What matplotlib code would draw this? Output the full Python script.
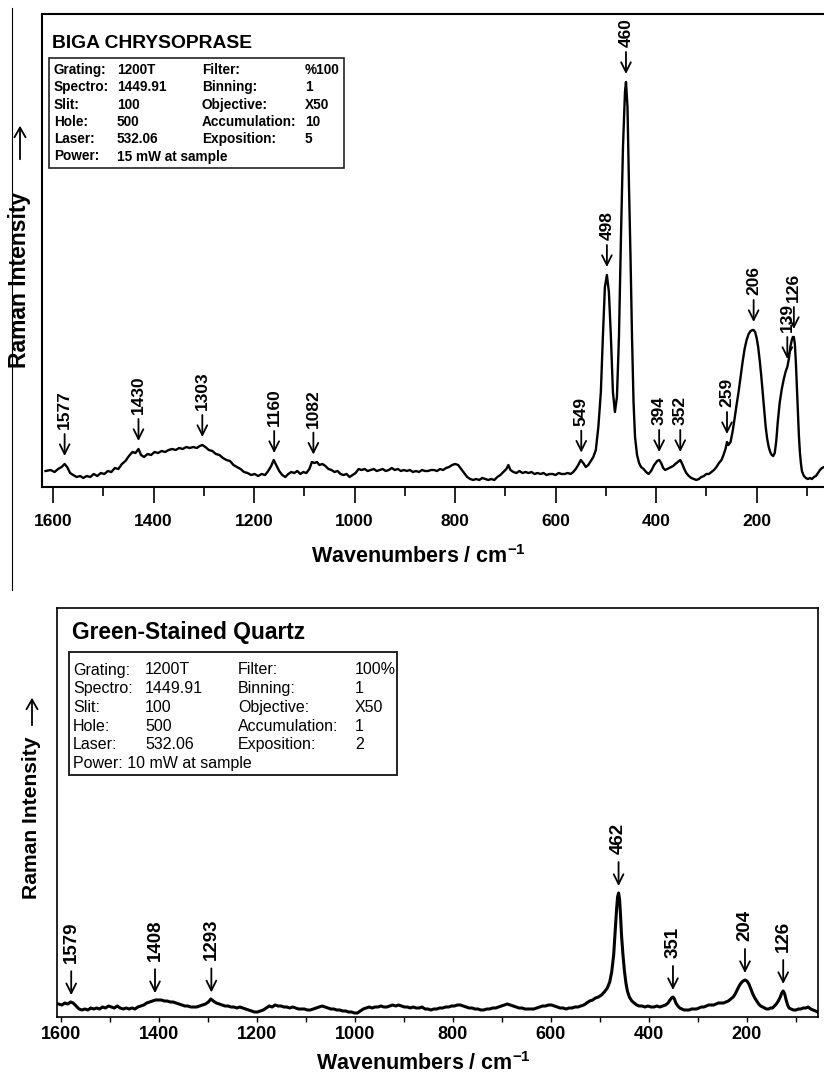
import matplotlib
matplotlib.use('Agg')
import numpy as np
import matplotlib.pyplot as plt
from matplotlib.lines import Line2D
from matplotlib.patches import Rectangle, FancyArrowPatch

plt.rcParams['font.family'] = ['Liberation Sans', 'DejaVu Sans']
plt.rcParams['mathtext.fontset'] = 'custom'
plt.rcParams['mathtext.bf'] = 'Liberation Sans:bold'
plt.rcParams['mathtext.rm'] = 'Liberation Sans'

W, H = 824, 1075


def fx(x):
    return x / W


def fy(y):
    return 1 - y / H


# ---- Biga chrysoprase spectrum (wavenumber, intensity a.u.) ----
chry_wn = [1615, 1605, 1597, 1590, 1583, 1577, 1572, 1566, 1560, 1553, 1546, 1540, 1533, 1526, 1519, 1512,
           1505, 1498, 1491, 1484, 1477, 1470, 1463, 1456, 1449, 1442, 1436, 1430, 1425, 1419, 1412, 1405,
           1398, 1391, 1384, 1377, 1370, 1363, 1356, 1349, 1342, 1335, 1328, 1321, 1314, 1308, 1303, 1297,
           1290, 1283, 1276, 1269, 1262, 1255, 1248, 1241, 1234, 1227, 1220, 1213, 1206, 1199, 1192, 1185,
           1178, 1172, 1166, 1161, 1156, 1150, 1144, 1138, 1132, 1126, 1120, 1114, 1108, 1102, 1096, 1090,
           1085, 1080, 1075, 1070, 1064, 1058, 1052, 1046, 1040, 1034, 1028, 1022, 1016, 1010, 1004, 998,
           992, 986, 980, 974, 968, 962, 956, 950, 944, 938, 932, 926, 920, 914, 908, 902,
           896, 890, 884, 878, 872, 866, 860, 854, 848, 842, 836, 830, 824, 818, 812, 806,
           800, 794, 788, 782, 776, 770, 764, 758, 752, 746, 740, 734, 728, 722, 716, 710,
           704, 698, 694, 690, 684, 678, 672, 666, 660, 654, 648, 642, 636, 630, 624, 618,
           612, 606, 600, 594, 588, 582, 576, 570, 565, 560, 555, 550, 545, 540, 535, 530,
           525, 520, 515, 510, 506, 502, 498, 494, 490, 486, 482, 478, 474, 470, 466, 462,
           460, 457, 454, 451, 448, 445, 442, 438, 434, 430, 425, 420, 415, 410, 404, 398,
           394, 390, 386, 382, 378, 374, 370, 366, 362, 357, 352, 348, 344, 340, 335, 330,
           325, 320, 315, 310, 305, 300, 295, 290, 285, 280, 275, 270, 266, 262, 259, 256,
           252, 248, 244, 240, 236, 232, 228, 224, 220, 216, 212, 208, 206, 203, 200, 197,
           194, 191, 188, 185, 182, 179, 176, 173, 170, 167, 164, 161, 158, 154, 150, 146,
           142, 139, 136, 133, 130, 128, 126, 124, 122, 120, 118, 116, 114, 112, 110, 106,
           102, 98, 94, 90, 86, 82, 78, 74, 70, 66]
chry_int = [16, 17, 15, 18, 20, 23, 20, 14, 12, 10, 11, 9, 11, 10, 13, 11,
            14, 13, 16, 15, 19, 18, 23, 26, 31, 35, 34, 38, 32, 30, 33, 32,
            35, 34, 36, 35, 37, 38, 37, 39, 38, 40, 39, 40, 39, 41, 42, 40,
            37, 36, 33, 32, 29, 27, 26, 22, 20, 18, 15, 14, 12, 13, 11, 13,
            12, 16, 21, 27, 22, 16, 12, 10, 13, 15, 14, 16, 13, 15, 14, 18,
            25, 24, 25, 22, 23, 21, 18, 17, 15, 16, 13, 12, 13, 10, 12, 14,
            18, 17, 18, 16, 17, 18, 16, 17, 18, 16, 17, 19, 17, 18, 16, 17,
            16, 17, 15, 16, 15, 17, 16, 16, 17, 17, 16, 18, 17, 19, 20, 22,
            23, 22, 18, 14, 10, 8, 7, 8, 7, 9, 8, 7, 8, 7, 10, 12,
            15, 18, 22, 17, 15, 14, 16, 14, 15, 14, 15, 13, 14, 13, 14, 12,
            13, 13, 12, 14, 13, 13, 14, 13, 15, 18, 22, 27, 24, 20, 22, 26,
            30, 37, 60, 95, 150, 200, 212, 195, 150, 95, 75, 90, 150, 250, 340, 395,
            405, 380, 300, 230, 150, 85, 50, 32, 24, 20, 18, 15, 13, 16, 22, 26,
            27, 24, 19, 17, 18, 19, 20, 21, 23, 25, 27, 23, 18, 14, 11, 9,
            8, 7, 8, 10, 11, 13, 13, 15, 17, 20, 24, 27, 32, 38, 45, 42,
            45, 55, 68, 82, 95, 110, 125, 138, 147, 153, 156, 157, 157, 155, 149, 140,
            127, 112, 95, 78, 60, 48, 40, 35, 32, 31, 34, 46, 65, 85, 98, 108,
            116, 120, 128, 140, 147, 150, 150, 143, 125, 100, 75, 52, 35, 24, 16, 11,
            9, 8, 9, 8, 10, 11, 14, 17, 19, 20]
chry_peaks = [1577, 1430, 1303, 1160, 1082, 549, 498, 460, 394, 352, 259, 206, 139, 126]

# ---- Green-stained quartz spectrum ----
qtz_wn = [1605, 1598, 1592, 1586, 1580, 1575, 1569, 1563, 1557, 1551, 1545, 1539, 1533, 1527, 1521, 1515,
          1509, 1503, 1497, 1491, 1485, 1479, 1473, 1467, 1461, 1455, 1449, 1443, 1437, 1431, 1425, 1419,
          1413, 1407, 1401, 1395, 1389, 1383, 1377, 1371, 1365, 1359, 1353, 1347, 1341, 1335, 1329, 1323,
          1317, 1311, 1305, 1299, 1294, 1289, 1283, 1277, 1271, 1265, 1259, 1253, 1247, 1241, 1235, 1229,
          1223, 1217, 1211, 1205, 1199, 1193, 1187, 1181, 1175, 1169, 1163, 1157, 1151, 1145, 1139, 1133,
          1127, 1121, 1115, 1109, 1103, 1097, 1091, 1085, 1079, 1073, 1067, 1061, 1055, 1049, 1043, 1037,
          1031, 1025, 1019, 1013, 1007, 1001, 995, 989, 983, 977, 971, 965, 959, 953, 947, 941,
          935, 929, 923, 917, 911, 905, 899, 893, 887, 881, 875, 869, 863, 857, 851, 845,
          839, 833, 827, 821, 815, 809, 803, 797, 791, 785, 779, 773, 767, 761, 755, 749,
          743, 737, 731, 725, 719, 713, 707, 701, 695, 689, 683, 677, 671, 665, 659, 653,
          647, 641, 635, 629, 623, 617, 611, 605, 599, 593, 587, 581, 575, 569, 563, 557,
          551, 545, 539, 533, 527, 521, 515, 509, 503, 497, 491, 485, 480, 476, 472, 469,
          466, 464, 462, 460, 458, 456, 453, 450, 447, 444, 440, 435, 430, 425, 420, 414,
          408, 402, 396, 390, 384, 378, 372, 366, 361, 357, 354, 351, 348, 345, 341, 337,
          333, 328, 323, 318, 313, 308, 303, 298, 293, 288, 283, 278, 273, 268, 263, 258,
          253, 248, 243, 238, 233, 228, 224, 220, 216, 212, 208, 204, 200, 196, 192, 188,
          184, 180, 176, 172, 168, 164, 160, 156, 152, 148, 144, 140, 136, 132, 129, 126,
          123, 120, 117, 114, 110, 105, 100, 95, 90, 85, 80, 75, 70, 65, 60, 56]
qtz_int = [13, 12, 14, 13, 15, 14, 11, 8, 7, 8, 7, 9, 8, 9, 8, 10,
           9, 11, 10, 9, 11, 9, 8, 9, 8, 9, 8, 10, 11, 12, 14, 15,
           16, 17, 17, 17, 16, 16, 15, 15, 14, 13, 12, 11, 11, 10, 10, 10,
           11, 12, 13, 15, 18, 16, 14, 13, 12, 11, 11, 10, 10, 9, 10, 9,
           8, 7, 6, 5, 5, 6, 7, 9, 11, 10, 12, 11, 11, 10, 10, 9,
           10, 9, 8, 8, 8, 7, 7, 8, 9, 10, 11, 10, 9, 8, 8, 7,
           7, 6, 6, 5, 5, 4, 4, 6, 8, 9, 10, 9, 10, 10, 11, 10,
           10, 11, 12, 11, 12, 11, 10, 10, 9, 10, 9, 9, 10, 8, 8, 7,
           8, 8, 9, 9, 10, 10, 11, 11, 12, 12, 11, 10, 9, 9, 8, 8,
           7, 7, 8, 8, 9, 9, 10, 11, 12, 13, 12, 11, 10, 9, 9, 8,
           8, 8, 8, 9, 10, 11, 11, 12, 12, 11, 10, 9, 9, 8, 9, 9,
           10, 10, 11, 12, 14, 16, 17, 19, 20, 22, 25, 29, 35, 45, 62, 85,
           108, 120, 124, 118, 102, 82, 62, 46, 34, 26, 20, 16, 14, 12, 11, 11,
           10, 11, 10, 10, 11, 10, 11, 12, 14, 17, 19, 20, 18, 14, 11, 9,
           8, 7, 7, 7, 8, 8, 8, 9, 10, 10, 11, 12, 12, 12, 13, 14,
           14, 14, 15, 16, 18, 20, 23, 27, 31, 34, 36, 37, 36, 33, 28, 23,
           19, 16, 13, 11, 10, 9, 8, 8, 9, 9, 11, 13, 16, 20, 24, 26,
           23, 17, 12, 9, 8, 7, 7, 8, 8, 9, 9, 10, 8, 7, 6, 5]
qtz_peaks = [1579, 1408, 1293, 462, 351, 204, 126]

major_ticks = [1600, 1400, 1200, 1000, 800, 600, 400, 200]
minor_ticks = [1500, 1300, 1100, 900, 700, 500, 300, 100]

fig = plt.figure(figsize=(W / 100, H / 100), dpi=100)


def add_axes_px(left, top, right, bottom):
    return fig.add_axes([fx(left), fy(bottom), (right - left) / W, (bottom - top) / H])


def mark_peaks(ax, wn, inten, peaks, gap, alen, tgap, fs):
    for p in peaks:
        yv = np.interp(p, wn[::-1], inten[::-1])
        ax.annotate('', xy=(p, yv), xytext=(0, gap + alen), textcoords='offset pixels',
                    arrowprops=dict(arrowstyle='->,head_length=0.7,head_width=0.35', lw=1.3,
                                    color='black', shrinkA=0, shrinkB=gap * 0.72))
        ax.annotate(str(p), xy=(p, yv), xytext=(0, gap + alen + tgap), textcoords='offset pixels',
                    rotation=90, ha='center', va='bottom', fontsize=fs, fontweight='bold')


def ylabel_arrow(x, y_text, y0, y1, fs):
    fig.text(fx(x), fy(y_text), 'Raman Intensity', rotation=90, ha='center', va='center',
             fontsize=fs, fontweight='bold')
    fig.patches.append(FancyArrowPatch((fx(x), fy(y0)), (fx(x), fy(y1)), transform=fig.transFigure,
                                       arrowstyle='->,head_length=7,head_width=4', lw=1.3,
                                       color='black', mutation_scale=1))


def info_box(x0, y0, x1, y1, title, tx, ty, tsize, rows, cols, row0, dy, power, psize, weight, lw):
    fig.text(fx(tx), fy(ty), title, fontsize=tsize, fontweight='bold', va='center')
    fig.patches.append(Rectangle((fx(x0), fy(y1)), (x1 - x0) / W, (y1 - y0) / H,
                                 transform=fig.transFigure, fill=False, lw=lw, ec='#222222'))
    for i, row in enumerate(rows):
        for c, s in zip(cols, row):
            fig.text(fx(c), fy(row0 + i * dy), s, fontsize=psize, fontweight=weight, va='center')
    for c, s in zip(cols, power):
        fig.text(fx(c), fy(row0 + len(rows) * dy), s, fontsize=psize, fontweight=weight, va='center')


# ---------- top panel ----------
ax1 = add_axes_px(42, 14, 824, 487)
ax1.plot(chry_wn, chry_int, color='black', lw=1.7)
ax1.set_xlim(1622, 66)
ax1.set_ylim(0, 473)
ax1.set_yticks([])
ax1.set_xticks(major_ticks)
ax1.set_xticks(minor_ticks, minor=True)
ax1.tick_params(axis='x', which='major', direction='out', length=11.5, width=1.2, pad=8,
                labelsize=12.5)
ax1.tick_params(axis='x', which='minor', direction='out', length=6.5, width=1.2)
for lab in ax1.get_xticklabels():
    lab.set_fontweight('bold')
for s in ['left', 'top', 'bottom']:
    ax1.spines[s].set_linewidth(1.5)
ax1.spines['right'].set_visible(False)
ax1.set_xlabel('Wavenumbers / cm$^{\\mathbf{-1}}$', fontsize=15.5, fontweight='bold')
ax1.xaxis.set_label_coords((418 - 42) / 782, -(545 - 487) / 473)
mark_peaks(ax1, chry_wn, chry_int, chry_peaks, 8, 22, 5, 12.5)

chry_rows = [('Grating:', '1200T', 'Filter:', '%100'),
             ('Spectro:', '1449.91', 'Binning:', '1'),
             ('Slit:', '100', 'Objective:', 'X50'),
             ('Hole:', '500', 'Accumulation:', '10'),
             ('Laser:', '532.06', 'Exposition:', '5')]
info_box(49, 58, 344, 168, 'BIGA CHRYSOPRASE', 52, 43, 13.9, chry_rows, [54, 117, 202, 305],
         70, 17.3, ['Power:', '15 mW at sample'], 9.8, 'bold', 1.2)

ylabel_arrow(20, 280, 162, 123, 16.5)
fig.add_artist(Line2D([fx(12), fx(12)], [fy(8), fy(590)], color='black', lw=0.8))

# ---------- bottom panel ----------
ax2 = add_axes_px(57, 608, 818, 1017)
ax2.plot(qtz_wn, qtz_int, color='black', lw=2.2)
ax2.set_xlim(1608, 55)
ax2.set_ylim(0, 409)
ax2.set_yticks([])
ax2.set_xticks(major_ticks)
ax2.set_xticks(minor_ticks, minor=True)
ax2.tick_params(axis='x', which='both', direction='out', length=3.6, width=1.0, pad=3,
                labelsize=13)
for lab in ax2.get_xticklabels():
    lab.set_fontweight('bold')
for s in ax2.spines.values():
    s.set_linewidth(1.2)
ax2.set_xlabel('Wavenumbers / cm$^{\\mathbf{-1}}$', fontsize=15.5, fontweight='bold')
ax2.xaxis.set_label_coords((423 - 57) / 761, -(1052 - 1017) / 409)
mark_peaks(ax2, qtz_wn, qtz_int, qtz_peaks, 7, 24, 8, 13.5)

qtz_rows = [('Grating:', '1200T', 'Filter:', '100%'),
            ('Spectro:', '1449.91', 'Binning:', '1'),
            ('Slit:', '100', 'Objective:', 'X50'),
            ('Hole:', '500', 'Accumulation:', '1'),
            ('Laser:', '532.06', 'Exposition:', '2')]
info_box(69, 652, 397, 775, 'Green-Stained Quartz', 72, 633, 16.4, qtz_rows, [73, 145, 238, 355],
         670, 18.7, ['Power: 10 mW at sample'], 11.5, 'normal', 1.4)

ylabel_arrow(32, 818, 728, 695, 15.2)

fig.savefig('out.png', dpi=100)
